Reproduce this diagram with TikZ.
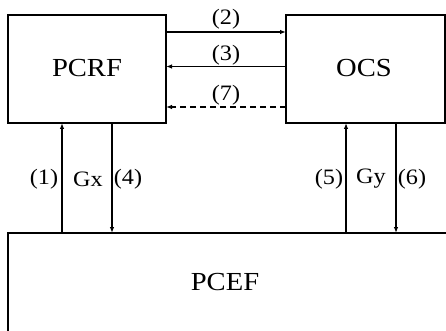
\documentclass[tikz,border=0pt]{standalone}
\usepackage{fontspec}
\setmainfont{Liberation Serif}
\usetikzlibrary{arrows.meta}
\begin{document}
\begin{tikzpicture}[x=1pt,y=-1pt,
  box/.style={draw,line width=1.3pt},
  conn/.style={line width=1.1pt,-{Latex[length=6pt,width=4.5pt]}},
  lbl/.style={font=\fontsize{22}{22}\selectfont,inner sep=0pt},
  boxname/.style={font=\fontsize{26}{26}\selectfont,inner sep=0pt}]
\useasboundingbox (0,0) rectangle (446,331);
\begin{scope}
\clip (0,0) rectangle (446,331);
\draw[box] (8,15) rectangle (166,123);
\draw[box] (286,15) rectangle (445,123);
\draw[box] (8,336) |- (460,233);
\end{scope}
\node[boxname] (pcrf) at (87,68) {\scalebox{1.1}[1]{PCRF}};
\node[boxname] (ocs) at (364,68) {\scalebox{1.1}[1]{OCS}};
\node[boxname] (pcef) at (225,282) {\scalebox{1.1}[1]{PCEF}};
\coordinate (a2s) at (166,32); \coordinate (a2e) at (286,32);
\coordinate (a3s) at (286,66.5); \coordinate (a3e) at (166,66.5);
\coordinate (a7s) at (286,107); \coordinate (a7e) at (166,107);
\draw[conn] (a2s) -- (a2e);
\draw[conn] (a3s) -- (a3e);
\draw[conn,dash pattern=on 6pt off 4pt] (a7s) -- (a7e);
\node[lbl] (l2) at (226,19) {\scalebox{1.1}[1]{(2)}};
\node[lbl] (l3) at (226,55) {\scalebox{1.1}[1]{(3)}};
\node[lbl] (l7) at (226,95) {\scalebox{1.1}[1]{(7)}};
\coordinate (v1b) at (62,233); \coordinate (v1t) at (62,123);
\coordinate (v4t) at (112,123); \coordinate (v4b) at (112,233);
\coordinate (v5b) at (346,233); \coordinate (v5t) at (346,123);
\coordinate (v6t) at (396,123); \coordinate (v6b) at (396,233);
\draw[conn] (v1b) -- (v1t);
\draw[conn] (v4t) -- (v4b);
\draw[conn] (v5b) -- (v5t);
\draw[conn] (v6t) -- (v6b);
\node[lbl] (l1) at (44,179) {\scalebox{1.1}[1]{(1)}};
\node[lbl] (gx) at (88,179) {\scalebox{1.1}[1]{Gx}};
\node[lbl] (l4) at (128,179) {\scalebox{1.1}[1]{(4)}};
\node[lbl] (l5) at (329,179) {\scalebox{1.1}[1]{(5)}};
\node[lbl] (gy) at (371,179) {\scalebox{1.1}[1]{Gy}};
\node[lbl] (l6) at (412,179) {\scalebox{1.1}[1]{(6)}};
\end{tikzpicture}
\end{document}
